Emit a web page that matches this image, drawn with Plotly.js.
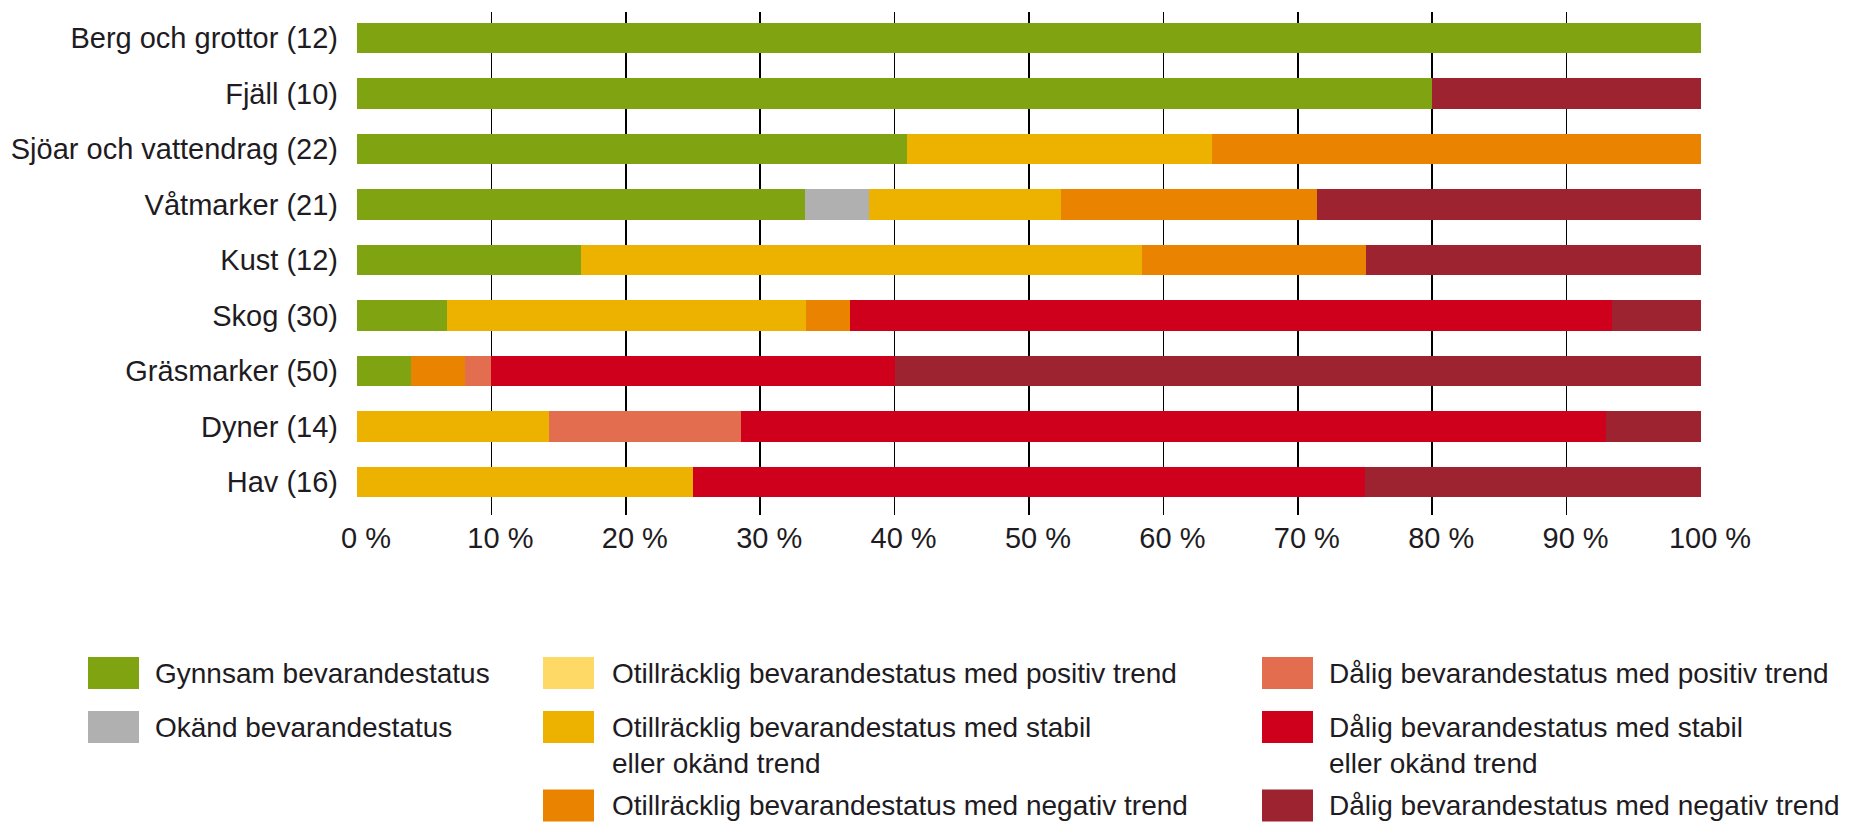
<!DOCTYPE html>
<html>
<head>
<meta charset="utf-8">
<script src="https://cdn.plot.ly/plotly-3.0.1.min.js"></script>
<style>
  html, body { margin: 0; padding: 0; background: #ffffff; }
  #chart { width: 1850px; height: 823px; }
</style>
</head>
<body>
<div id="chart"></div>
<script>
// ---- Data (percent of habitat types per category) ----
const categories = [
  "Berg och grottor (12)", "Fjäll (10)", "Sjöar och vattendrag (22)", "Våtmarker (21)",
  "Kust (12)", "Skog (30)", "Gräsmarker (50)", "Dyner (14)", "Hav (16)"
];
const gynnsam      = [100, 80, 40.9, 33.3, 16.7, 6.7, 4, 0, 0];
const okand        = [0, 0, 0, 4.8, 0, 0, 0, 0, 0];
const otPositiv    = [0, 0, 0, 0, 0, 0, 0, 0, 0];
const otStabil     = [0, 0, 22.7, 14.3, 41.7, 26.7, 0, 14.3, 25];
const otNegativ    = [0, 0, 36.4, 19.0, 16.7, 3.3, 4, 0, 0];
const dPositiv     = [0, 0, 0, 0, 0, 0, 2, 14.3, 0];
const dStabil      = [0, 0, 0, 0, 0, 56.7, 30, 64.3, 50];
const dNegativ     = [0, 20, 0, 28.6, 25, 6.7, 60, 7.1, 25];

const seriesNames = [
  "Gynnsam bevarandestatus",
  "Okänd bevarandestatus",
  "Otillräcklig bevarandestatus med positiv trend",
  "Otillräcklig bevarandestatus med stabil<br>eller okänd trend",
  "Otillräcklig bevarandestatus med negativ trend",
  "Dålig bevarandestatus med positiv trend",
  "Dålig bevarandestatus med stabil<br>eller okänd trend",
  "Dålig bevarandestatus med negativ trend"
];
const seriesValues = [gynnsam, okand, otPositiv, otStabil, otNegativ, dPositiv, dStabil, dNegativ];

const tickValues = [0, 10, 20, 30, 40, 50, 60, 70, 80, 90, 100];
const tickLabels = ["0 %", "10 %", "20 %", "30 %", "40 %", "50 %", "60 %", "70 %", "80 %", "90 %", "100 %"];

// ---- Styles ----
const seriesColors = ["#80A312", "#B0B0B0", "#FED966", "#EDB100", "#E98300", "#E36D4F", "#CF001B", "#9C232F"];
const FONT = "Liberation Sans, Arial, Helvetica, sans-serif";
const TEXT = "#1e1b22";

// plot area geometry (px)
const W = 1850, H = 823;
const M = { l: 357, r: 149, t: 12, b: 308 };
const PW = W - M.l - M.r, PH = H - M.t - M.b;
const px2x = p => (p - M.l) / PW;
const px2y = p => (H - M.b - p) / PH;

// legend slots: column and row of each series
const legendSlots = [[0,0],[0,1],[1,0],[1,1],[1,2],[2,0],[2,1],[2,2]];
const colSwatchLeft = [88, 543, 1262];
const colTextLeft = [153, 610, 1327];
const rowCenter = [673, 727, 805.5];
const swW = 51, swH = 32, lineH = 36;

const traces = seriesValues.map((vals, i) => ({
  type: "bar",
  orientation: "h",
  name: seriesNames[i],
  x: vals,
  y: categories,
  marker: { color: seriesColors[i], line: { width: 0 } },
  showlegend: false,
  hoverinfo: "x+y+name"
}));

const shapes = [], annotations = [];
seriesNames.forEach((nm, i) => {
  const [c, r] = legendSlots[i];
  const cy = rowCenter[r];
  shapes.push({
    type: "rect", xref: "paper", yref: "paper",
    x0: px2x(colSwatchLeft[c]), x1: px2x(colSwatchLeft[c] + swW),
    y0: px2y(cy + swH / 2), y1: px2y(cy - swH / 2),
    fillcolor: seriesColors[i], line: { width: 0 }
  });
  const nLines = nm.split("<br>").length;
  annotations.push({
    xref: "paper", yref: "paper",
    x: px2x(colTextLeft[c]), y: px2y(cy + (nLines - 1) * lineH / 2),
    xanchor: "left", yanchor: "middle", align: "left",
    showarrow: false, text: nm,
    font: { family: FONT, size: 28, color: TEXT }
  });
});

const layout = {
  width: W, height: H,
  margin: { l: M.l, r: M.r, t: M.t, b: M.b, pad: 0, autoexpand: false },
  paper_bgcolor: "#ffffff", plot_bgcolor: "#ffffff",
  barmode: "stack",
  bargap: 0.45,
  showlegend: false,
  font: { family: FONT, size: 29, color: TEXT },
  xaxis: {
    range: [0, 100],
    tickmode: "array", tickvals: tickValues, ticktext: tickLabels,
    showgrid: true, gridcolor: "#000000", gridwidth: 1.6,
    zeroline: false, showline: false, ticks: "",
    ticklabelstandoff: 3, ticklabelshift: 9,
    tickfont: { family: FONT, size: 29, color: TEXT },
    automargin: false, fixedrange: true
  },
  yaxis: {
    type: "category",
    range: [8.595, -0.468],
    showgrid: false, zeroline: false, showline: false, ticks: "",
    ticklabelstandoff: 18,
    tickfont: { family: FONT, size: 29, color: TEXT },
    automargin: false, fixedrange: true
  },
  shapes: shapes,
  annotations: annotations
};

Plotly.newPlot("chart", traces, layout, { displayModeBar: false, staticPlot: true });
</script>
</body>
</html>
